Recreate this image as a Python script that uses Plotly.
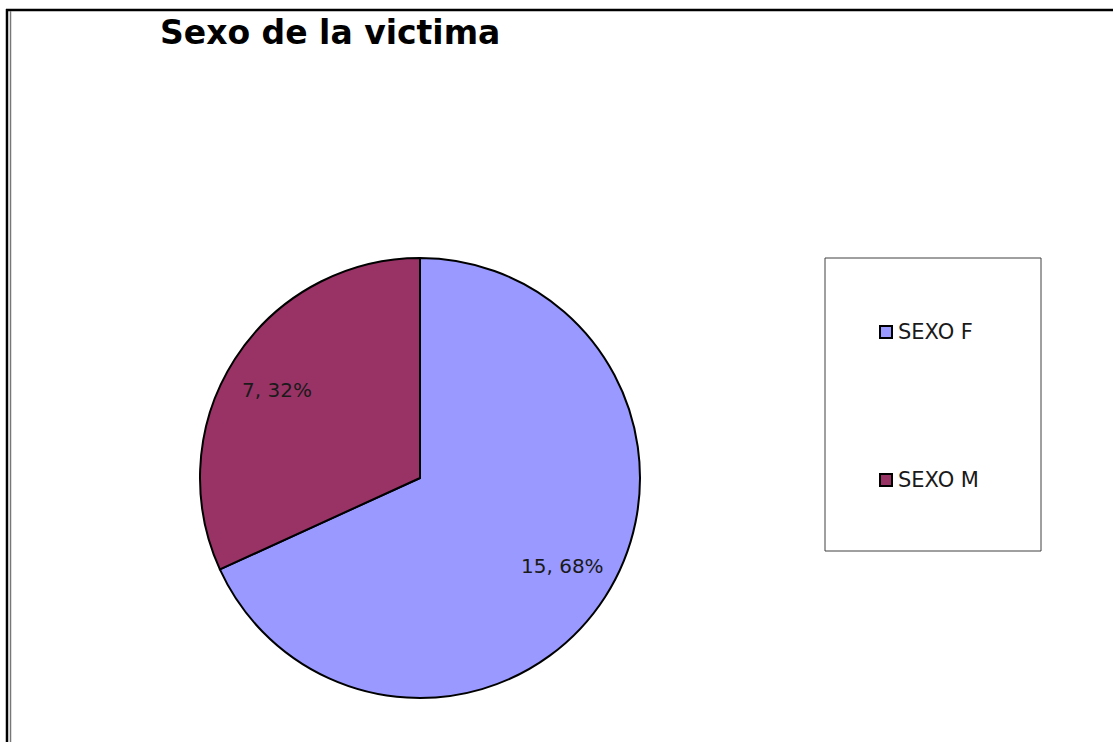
import math
import plotly.graph_objects as go

# ---- data ----
title_text = "Sexo de la victima"
labels = ["SEXO F", "SEXO M"]
values = [15, 7]
colors = ["#9999FF", "#993366"]

W, H = 1113, 742


def px(x):
    return x / W


def py(y):
    return 1 - y / H


fig = go.Figure()

cx, cy, r = 420, 478, 220
fig.add_trace(go.Pie(
    labels=labels,
    values=values,
    marker=dict(colors=colors, line=dict(color="black", width=2)),
    sort=False,
    direction="clockwise",
    rotation=0,
    textinfo="none",
    hoverinfo="label+value+percent",
    showlegend=False,
    domain=dict(x=[px(cx - r), px(cx + r)], y=[py(cy + r), py(cy - r)]),
))

shapes = [
    # outer frame (top and left double line)
    dict(type="line", xref="paper", yref="paper", x0=px(6), x1=px(W), y0=py(10), y1=py(10),
         line=dict(color="black", width=2.5)),
    dict(type="line", xref="paper", yref="paper", x0=px(7), x1=px(7), y0=py(9), y1=py(H),
         line=dict(color="black", width=2.5)),
    dict(type="line", xref="paper", yref="paper", x0=px(10.5), x1=px(10.5), y0=py(11), y1=py(H),
         line=dict(color="#777777", width=1.5)),
    # legend box
    dict(type="rect", xref="paper", yref="paper", x0=px(825), x1=px(1041), y0=py(258), y1=py(551),
         line=dict(color="#404040", width=1), fillcolor="white"),
]

annotations = []

# data labels "value, percent" placed at each slice's mid-angle
total = sum(values)
cum = 0
for v in values:
    mid = (cum + v / 2) / total * 2 * math.pi
    cum += v
    lx = cx + 0.77 * r * math.sin(mid)
    ly = cy - 0.74 * r * math.cos(mid)
    annotations.append(dict(text=f"{v}, {round(100 * v / total)}%", xref="paper", yref="paper",
                            x=px(lx), y=py(ly), xanchor="center", yanchor="middle",
                            showarrow=False,
                            font=dict(family="DejaVu Sans", size=20, color="#1a1a1a")))

legend_y = [332, 480]
for lab, col, ly in zip(labels, colors, legend_y):
    shapes.append(dict(type="rect", xref="paper", yref="paper",
                       x0=px(880), x1=px(892), y0=py(ly - 6), y1=py(ly + 6),
                       line=dict(color="black", width=2), fillcolor=col))
    annotations.append(dict(text=lab, xref="paper", yref="paper", x=px(896), y=py(ly),
                            xanchor="left", yanchor="middle", showarrow=False,
                            font=dict(family="DejaVu Sans", size=21, color="#1a1a1a")))

fig.update_layout(
    width=W, height=H,
    margin=dict(l=0, r=0, t=0, b=0),
    paper_bgcolor="white",
    plot_bgcolor="white",
    title=dict(text=title_text, xref="paper", yref="paper", x=px(160), y=py(32),
               xanchor="left", yanchor="middle",
               font=dict(family="DejaVu Sans", size=33, color="black", weight="bold")),
    shapes=shapes,
    annotations=annotations,
)

fig.write_html("out.html", config={"displayModeBar": False},
               post_script="document.body.style.margin='0';document.body.style.overflow='hidden';")
